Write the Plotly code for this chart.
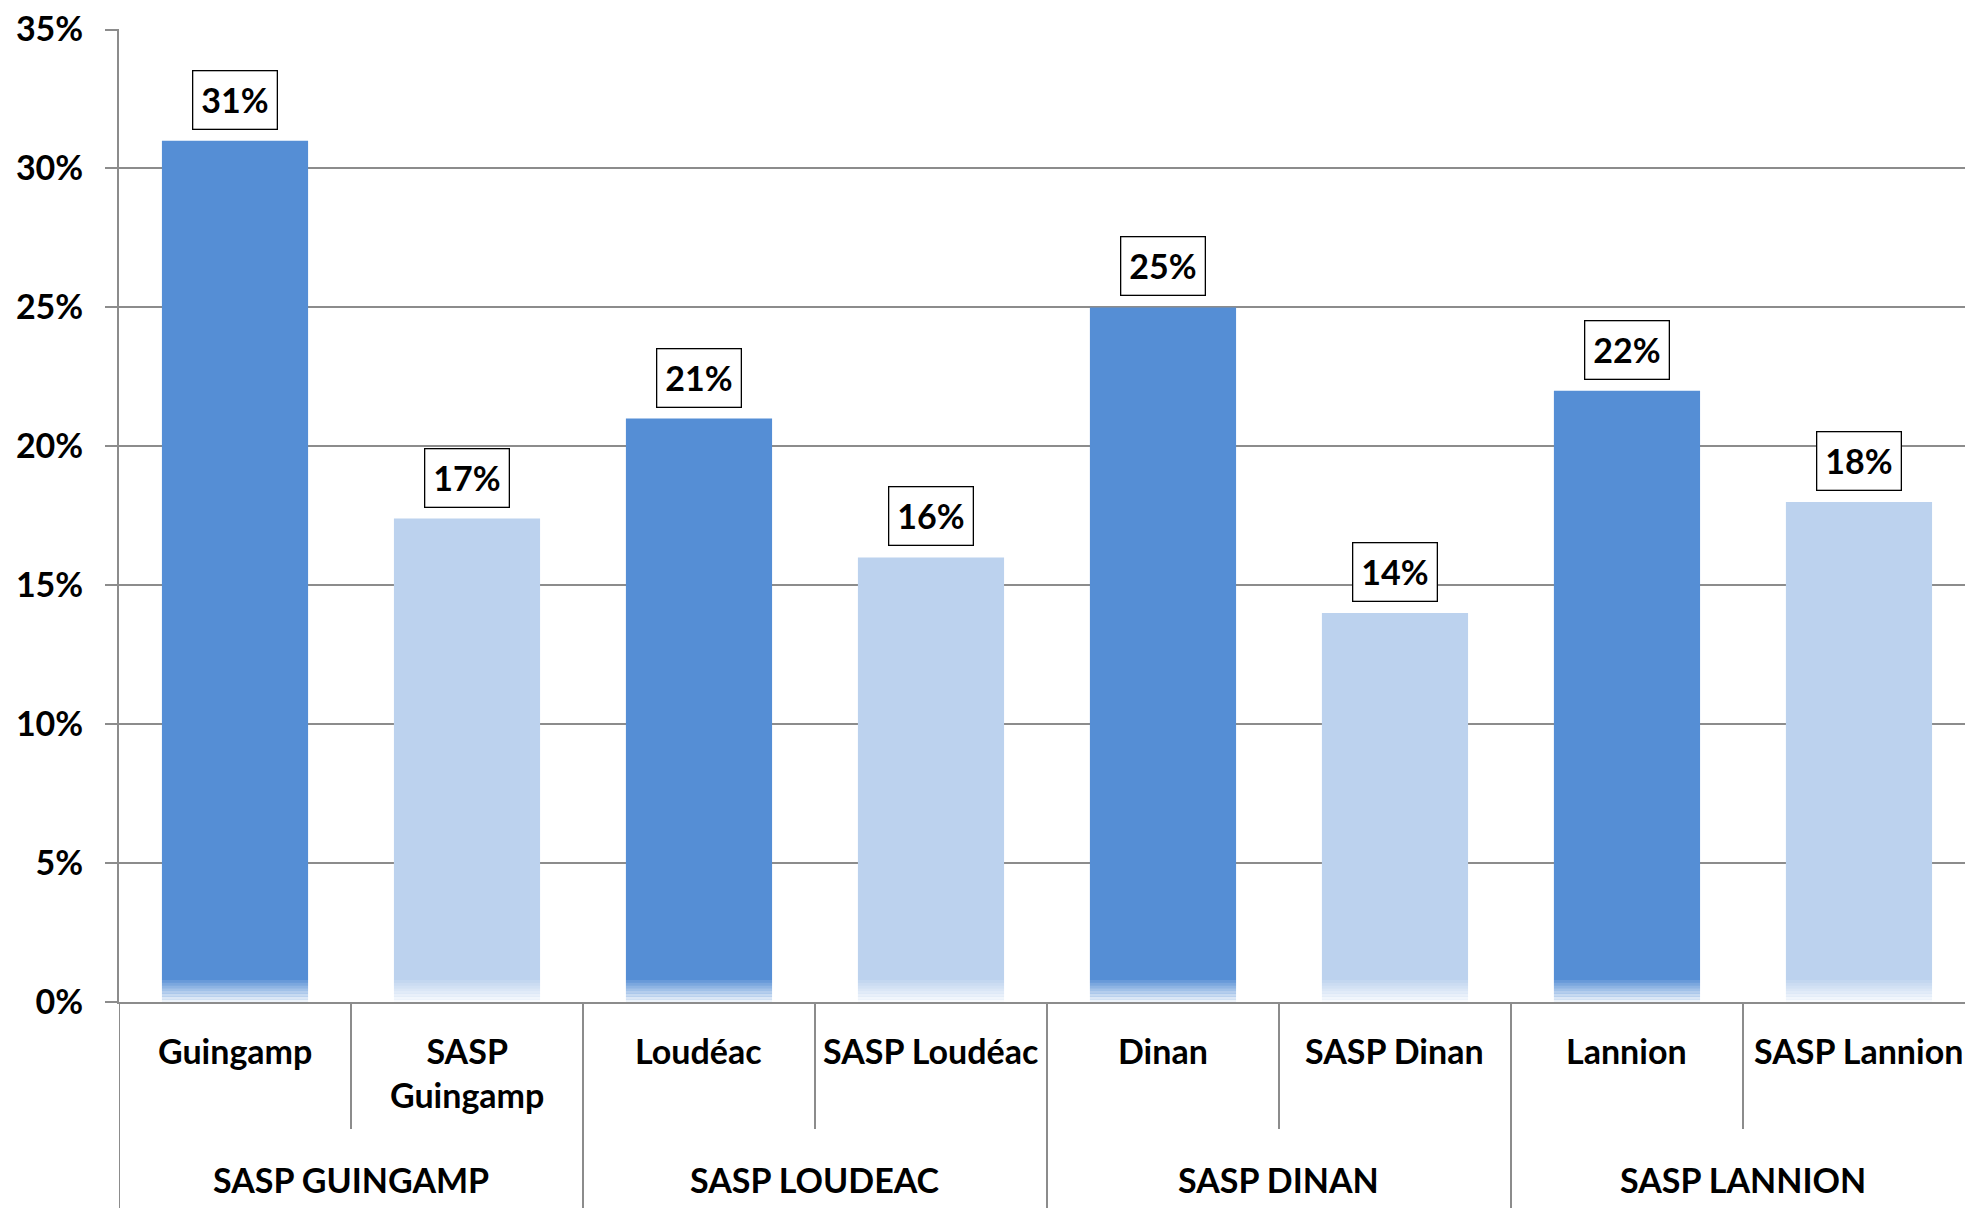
"""
plot.py – part des SASP par site (barres groupées, étiquettes encadrées)
"""
import plotly.graph_objects as go

# ── Données ───────────────────────────────────────────────────────────────────
sites = ["Guingamp", "SASP Guingamp", "Loudéac", "SASP Loudéac",
         "Dinan", "SASP Dinan", "Lannion", "SASP Lannion"]
site_labels = ["Guingamp", "SASP<br>Guingamp", "Loudéac", "SASP Loudéac",
               "Dinan", "SASP Dinan", "Lannion", "SASP Lannion"]
groups = ["SASP GUINGAMP", "SASP LOUDEAC", "SASP DINAN", "SASP LANNION"]
values = [0.31, 0.174, 0.21, 0.16, 0.25, 0.14, 0.22, 0.18]
value_labels = ["31%", "17%", "21%", "16%", "25%", "14%", "22%", "18%"]

# ── Palette ───────────────────────────────────────────────────────────────────
COLORS = {
    "site":  "#558ED5",
    "sasp":  "#BCD2EE",
    "grid":  "#8C8C8C",
    "text":  "#000000",
    "bg":    "#FFFFFF",
}
FONT = "Lato, Calibri, 'Open Sans', sans-serif"

W, H = 1965, 1218
M_L, M_T, M_B = 119, 29, 216
plot_h = H - M_T - M_B


def py(px_below_axis):
    """pixels sous l'axe des x -> coordonnée paper"""
    return -px_below_axis / plot_h


bar_colors = [COLORS["sasp"] if s.startswith("SASP") else COLORS["site"] for s in sites]

fig = go.Figure()
fig.add_trace(go.Bar(
    x=sites, y=values,
    marker=dict(color=bar_colors, line_width=0),
    showlegend=False,
    hoverinfo="skip",
))

# ── Étiquettes de valeur encadrées ────────────────────────────────────────────
for s, v, t in zip(sites, values, value_labels):
    fig.add_annotation(
        x=s, y=v, xref="x", yref="y",
        text=t, showarrow=False,
        yanchor="bottom", yshift=11,
        font=dict(family=FONT, size=34, color=COLORS["text"], weight="bold"),
        bgcolor=COLORS["bg"], bordercolor="#000000", borderwidth=1.3, borderpad=8,
    )

# ── Fondu blanc en bas des barres ─────────────────────────────────────────────
n_strips = 8
fade_px = 22
for k in range(n_strips):
    y0 = k * fade_px / n_strips
    y1 = (k + 1) * fade_px / n_strips
    fig.add_shape(
        type="rect", xref="paper", yref="paper",
        x0=0.002, x1=1, y0=y0 / plot_h, y1=y1 / plot_h,
        fillcolor="white", opacity=0.9 * (1 - k / n_strips),
        line_width=0, layer="above",
    )

# ── Axe des catégories (deux niveaux) ─────────────────────────────────────────
for i, lab in enumerate(site_labels):
    fig.add_annotation(
        x=i, y=py(26), xref="x", yref="paper",
        text=lab, showarrow=False, yanchor="top",
        font=dict(family=FONT, size=34, color=COLORS["text"], weight="bold"),
    )
for g, lab in enumerate(groups):
    fig.add_annotation(
        x=2 * g + 0.5, y=py(177), xref="x", yref="paper",
        text=lab, showarrow=False, yanchor="middle",
        font=dict(family=FONT, size=34, color=COLORS["text"], weight="bold"),
    )
    # séparateur long (début de groupe)
    fig.add_shape(type="line", xref="x", yref="paper",
                  x0=2 * g - 0.5, x1=2 * g - 0.5, y0=0, y1=py(206),
                  line=dict(color=COLORS["grid"], width=2))
    # séparateur court (entre les deux barres du groupe)
    fig.add_shape(type="line", xref="x", yref="paper",
                  x0=2 * g + 0.5, x1=2 * g + 0.5, y0=0, y1=py(127),
                  line=dict(color=COLORS["grid"], width=2))

# ── Mise en page ──────────────────────────────────────────────────────────────
fig.update_layout(
    width=W, height=H,
    margin=dict(l=M_L, r=0, t=M_T, b=M_B, pad=0),
    paper_bgcolor=COLORS["bg"],
    plot_bgcolor=COLORS["bg"],
    bargap=0.37,
    font=dict(family=FONT, color=COLORS["text"]),
    xaxis=dict(
        type="category",
        range=[-0.5, 7.457],
        showticklabels=False, ticks="",
        showgrid=False, zeroline=False,
        showline=True, linecolor=COLORS["grid"], linewidth=2,
        fixedrange=True,
    ),
    yaxis=dict(
        range=[0, 0.3502],
        dtick=0.05, tickformat=".0%",
        showgrid=True, gridcolor=COLORS["grid"], gridwidth=2,
        zeroline=False,
        showline=True, linecolor=COLORS["grid"], linewidth=2,
        ticks="outside", ticklen=12, tickcolor=COLORS["grid"], tickwidth=2,
        ticklabelstandoff=15,
        tickfont=dict(family=FONT, size=34, color=COLORS["text"], weight="bold"),
        fixedrange=True,
    ),
)

fig.write_html("out.html", config={"displayModeBar": False},
               post_script="document.body.style.margin='0';")
